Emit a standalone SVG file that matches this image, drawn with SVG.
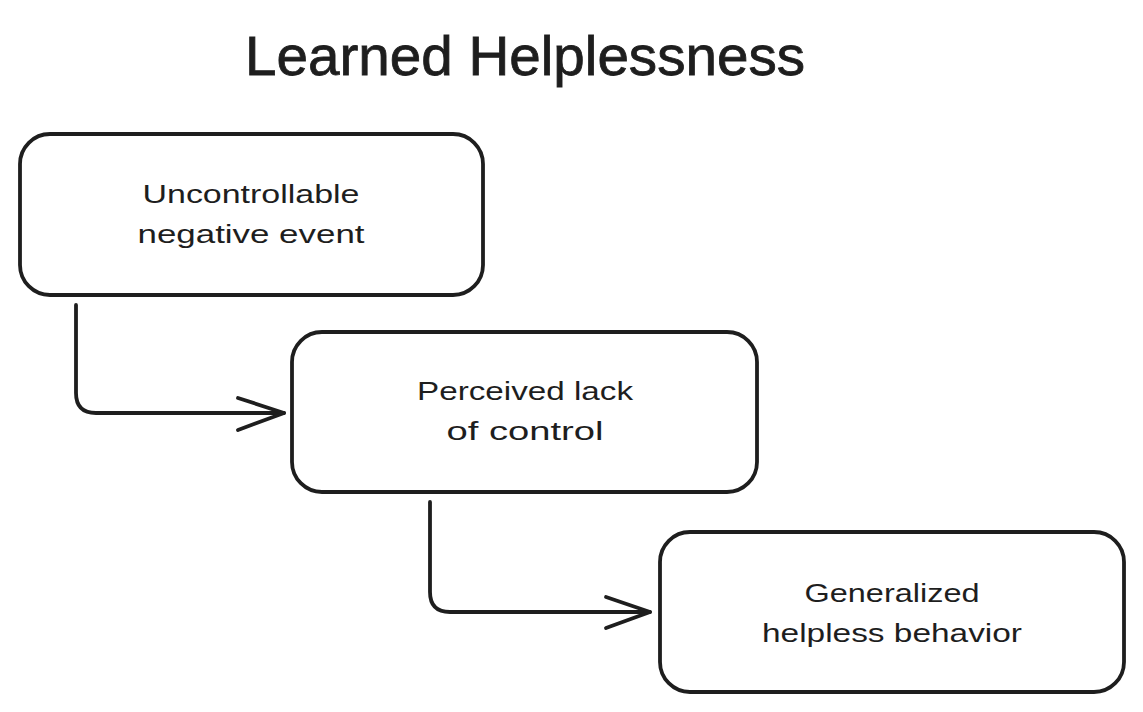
<svg xmlns="http://www.w3.org/2000/svg" width="1143" height="712" viewBox="0 0 1143 712">
<style>
.box{fill:#ffffff;stroke:#1e1e1e;stroke-width:3.8;}
.lbl{font-family:"Liberation Sans",Arial,sans-serif;font-size:26px;fill:#1e1e1e;text-anchor:middle;}
.title{font-family:"Liberation Sans",Arial,sans-serif;font-size:56px;fill:#1e1e1e;stroke:#1e1e1e;stroke-width:0.8;text-anchor:middle;}
.conn{fill:none;stroke:#1e1e1e;stroke-width:3.8;stroke-linecap:round;stroke-linejoin:round;}
</style>
<rect width="1143" height="712" fill="#ffffff"/>
<text class="title" x="525" y="75" textLength="560" lengthAdjust="spacingAndGlyphs">Learned Helplessness</text>
<g id="node1">
<rect class="box" x="20" y="134" width="463" height="161" rx="30" ry="30"/>
<text class="lbl" x="251" y="203" textLength="217" lengthAdjust="spacingAndGlyphs">Uncontrollable</text>
<text class="lbl" x="251" y="243" textLength="227" lengthAdjust="spacingAndGlyphs">negative event</text>
</g>
<g id="node2">
<rect class="box" x="292" y="332" width="465" height="160" rx="30" ry="30"/>
<text class="lbl" x="525" y="400" textLength="216" lengthAdjust="spacingAndGlyphs">Perceived lack</text>
<text class="lbl" x="525" y="440" textLength="157" lengthAdjust="spacingAndGlyphs">of control</text>
</g>
<g id="node3">
<rect class="box" x="660" y="532" width="464" height="160" rx="30" ry="30"/>
<text class="lbl" x="892" y="602" textLength="175" lengthAdjust="spacingAndGlyphs">Generalized</text>
<text class="lbl" x="892" y="642" textLength="260" lengthAdjust="spacingAndGlyphs">helpless behavior</text>
</g>
<g id="connectors">
<path class="conn" d="M76 305 L76 393 Q76 413 96 413 L284 413"/>
<path class="conn" d="M238 398 L284 413 L238 430"/>
<path class="conn" d="M430 502 L430 592 Q430 612 450 612 L650 612"/>
<path class="conn" d="M606 597 L650 612 L606 628"/>
</g>
</svg>
